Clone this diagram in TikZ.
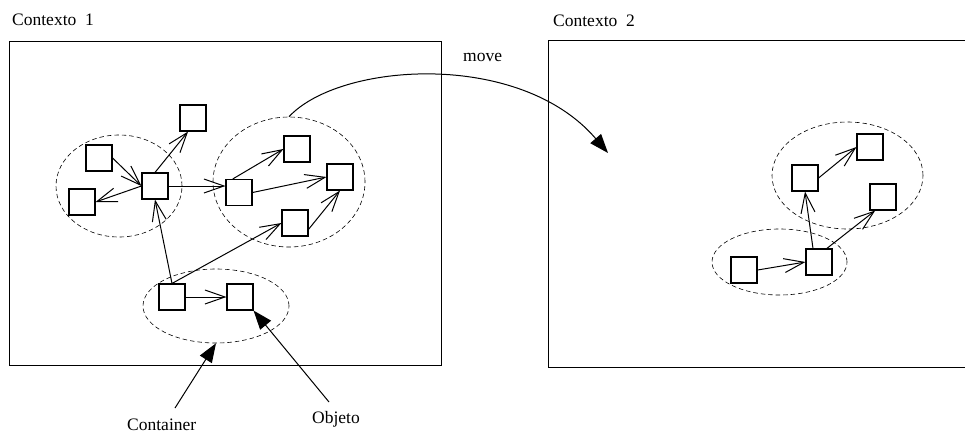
\documentclass[tikz,border=0pt]{standalone}
\usepackage{fontspec}
\setmainfont{Liberation Serif}
\usetikzlibrary{arrows.meta,shapes.geometric,calc}

\tikzset{
  obj/.style={draw, line width=1.1pt, minimum size=26pt, inner sep=0pt, fill=white},
  cont/.style={draw, ellipse, dashed, dash pattern=on 4.5pt off 3pt, line width=0.6pt, inner sep=0pt},
  link/.style={line width=1pt, -{Straight Barb[length=20pt,width=14pt,line width=1pt]}},
  pointer/.style={line width=1pt, -{Triangle[length=19pt,width=14pt]}},
  frame/.style={line width=1pt},
  lbl/.style={font=\fontsize{17.5}{19}\selectfont, inner sep=0pt}
}

\begin{document}
\begin{tikzpicture}[x=1pt,y=-1pt]
\useasboundingbox (0,0) rectangle (965,434);

% contexts
\node[lbl, anchor=base west] (t1) at (12,25) {Contexto\ \ 1};
\node[lbl, anchor=base west] (t2) at (553,26) {Contexto\ \ 2};
\draw[frame] (9,41) rectangle (441,365);
\draw[frame] (966,40) -- (548,40) -- (548,367) -- (966,367);

% containers in context 1
\node[cont, minimum width=126pt, minimum height=102pt] (e1) at (119,186) {};
\node[cont, minimum width=152pt, minimum height=130pt] (e2) at (289,182) {};
\node[cont, minimum width=146pt, minimum height=74pt] (e3) at (216,306) {};

% objects in context 1
\node[obj] (A) at (99,158) {};
\node[obj] (B) at (82,202) {};
\node[obj] (C) at (155,186) {};
\node[obj] (D) at (193,118) {};
\node[obj] (E) at (239,192.5) {};
\node[obj] (F) at (297,149) {};
\node[obj] (G) at (340,177) {};
\node[obj] (H) at (295,223) {};
\node[obj] (I) at (172,297) {};
\node[obj] (J) at (240,297) {};

\draw[link] (A.east) -- (C.west);
\draw[link] (C.west) -- (B.east);
\draw[link] (C.north) -- (D.250);
\draw[link] (C.east) -- (C.east -| E.west);
\draw[link] ($(E.north west)!0.27!(E.north east)$) -- (F.west);
\draw[link] (E.east) -- (G.west);
\draw[link] (H.-25) -- (G.south);
\draw[link] (I.north) -- (C.south);
\draw[link] (I.north) -- (H.west);
\draw[link] (I.east) -- (J.west);

% containers in context 2
\node[cont, minimum width=135pt, minimum height=66pt] (e4) at (779.5,262) {};
\node[cont, minimum width=151pt, minimum height=107pt] (e5) at (847.5,175.5) {};

% objects in context 2
\node[obj] (K) at (744,270) {};
\node[obj] (L) at (819,262) {};
\node[obj] (M) at (805,178) {};
\node[obj] (N) at (870,147) {};
\node[obj] (O) at (883,197) {};

\draw[link] (K.east) -- (L.west);
\draw[link] ($(L.north)+(-6,0)$) -- (M.south);
\draw[link] (M.east) -- (N.west);
\draw[link] (L.60) -- (O.240);

% migration
\coordinate (dest) at (608,153);
\draw[pointer] (e2.north) .. controls (340,62) and (520,50) .. (dest);
\node[lbl, anchor=base west] (mv) at (463,61) {move};

% legend
\node[lbl, anchor=base west] (lc) at (127,430) {Container};
\node[lbl, anchor=base west] (lo) at (312,423) {Objeto};
\coordinate (pc) at (175,408);
\coordinate (po) at (329,402);
\draw[pointer] (pc) -- (e3.south);
\draw[pointer] (po) -- (J.south east);
\end{tikzpicture}
\end{document}
